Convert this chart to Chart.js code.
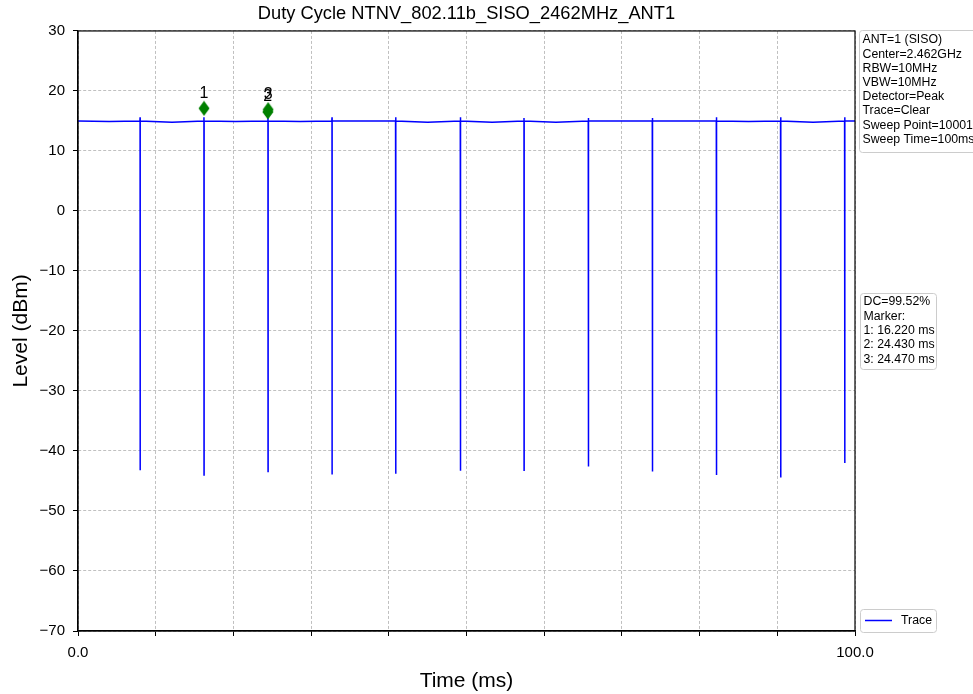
<!DOCTYPE html>
<html>
<head>
<meta charset="utf-8">
<script src="https://cdn.jsdelivr.net/npm/chart.js@4/dist/chart.umd.min.js"></script>
<style>
  html, body { margin: 0; padding: 0; background: #fff; }
  #wrap { width: 973px; height: 694px; }
</style>
</head>
<body>
<div id="wrap"><canvas id="chart" width="973" height="694"></canvas></div>
<script>
const chartTitle = 'Duty Cycle NTNV_802.11b_SISO_2462MHz_ANT1';

// trace (ms, dBm)
const traceTime = [
    0.0, 4.0,
    7.97, 7.99, 8.00, 8.01, 12.1,
    16.19, 16.21, 16.22, 16.23, 20.3,
    24.43, 24.45, 24.46, 24.47, 28.6,
    32.67, 32.69, 32.70, 32.71, 36.8,
    40.87, 40.89, 40.90, 40.91, 45.0,
    49.20, 49.22, 49.23, 49.24, 53.3,
    57.38, 57.40, 57.41, 57.42, 61.5,
    65.67, 65.69, 65.70, 65.71, 69.8,
    73.91, 73.93, 73.94, 73.95, 78.1,
    82.15, 82.17, 82.18, 82.19, 86.3,
    90.42, 90.44, 90.45, 90.46, 94.6,
    98.66, 98.68, 98.69, 98.70, 100.0
];
const traceLevel = [
    15.0, 14.9,
    15.0, 15.6, -43.2, 15.0, 14.8,
    15.0, 15.6, -44.0, 15.0, 14.9,
    15.0, 15.6, -43.4, 15.0, 14.9,
    15.0, 15.6, -43.9, 15.0, 15.0,
    15.0, 15.6, -43.8, 15.0, 14.8,
    15.0, 15.6, -43.3, 15.0, 14.8,
    15.0, 15.5, -43.2, 15.0, 14.8,
    15.0, 15.5, -42.6, 15.0, 15.0,
    15.0, 15.5, -43.4, 15.0, 15.0,
    15.0, 15.6, -44.0, 15.0, 14.9,
    15.0, 15.6, -44.4, 15.0, 14.8,
    15.0, 15.6, -42.0, 15.0, 15.0
];

const markerLabels = ['1', '2', '3'];
const markerTime = [16.22, 24.43, 24.47];
const markerLevel = [17.1, 16.5, 16.9];

const xTickLabels = { 0: '0.0', 100: '100.0' };

const settingsLines = [
    'ANT=1 (SISO)',
    'Center=2.462GHz',
    'RBW=10MHz',
    'VBW=10MHz',
    'Detector=Peak',
    'Trace=Clear',
    'Sweep Point=10001',
    'Sweep Time=100ms'
];
const resultLines = [
    'DC=99.52%',
    'Marker:',
    '1: 16.220 ms',
    '2: 24.430 ms',
    '3: 24.470 ms'
];
const legendLabel = 'Trace';

const FONT = "'Liberation Sans', Arial, sans-serif";
const TRACE_COLOR = '#0000ff';
const MARKER_COLOR = '#008000';

// thin diamond like matplotlib 'd'
function makeDiamond() {
    const c = document.createElement('canvas');
    c.width = 12;
    c.height = 16;
    const g = c.getContext('2d');
    g.fillStyle = MARKER_COLOR;
    g.beginPath();
    g.moveTo(6, 0.5);
    g.lineTo(11.5, 8);
    g.lineTo(6, 15.5);
    g.lineTo(0.5, 8);
    g.closePath();
    g.fill();
    return c;
}

function roundBox(ctx, x, y, w, h, r) {
    ctx.beginPath();
    ctx.moveTo(x + r, y);
    ctx.lineTo(x + w - r, y);
    ctx.quadraticCurveTo(x + w, y, x + w, y + r);
    ctx.lineTo(x + w, y + h - r);
    ctx.quadraticCurveTo(x + w, y + h, x + w - r, y + h);
    ctx.lineTo(x + r, y + h);
    ctx.quadraticCurveTo(x, y + h, x, y + h - r);
    ctx.lineTo(x, y + r);
    ctx.quadraticCurveTo(x, y, x + r, y);
    ctx.closePath();
}

function drawTextBox(ctx, x, y, w, h, lines, firstY, step) {
    roundBox(ctx, x, y, w, h, 3);
    ctx.fillStyle = 'rgba(255,255,255,0.8)';
    ctx.fill();
    ctx.strokeStyle = '#cccccc';
    ctx.lineWidth = 1;
    ctx.stroke();
    ctx.fillStyle = '#000';
    ctx.font = '12.3px ' + FONT;
    ctx.textAlign = 'left';
    ctx.textBaseline = 'middle';
    lines.forEach((t, i) => ctx.fillText(t, x + 3, firstY + i * step));
}

const extrasPlugin = {
    id: 'extras',
    afterDatasetsDraw(chart) {
        const ctx = chart.ctx;
        const meta = chart.getDatasetMeta(0);
        ctx.save();
        ctx.fillStyle = '#000';
        ctx.font = '16px ' + FONT;
        ctx.textAlign = 'center';
        ctx.textBaseline = 'middle';
        meta.data.forEach((pt, i) => {
            ctx.fillText(markerLabels[i], pt.x, pt.y - 15);
        });
        ctx.restore();
    },
    afterDraw(chart) {
        const ctx = chart.ctx;
        const a = chart.chartArea;
        ctx.save();
        // frame
        ctx.strokeStyle = '#000';
        ctx.lineWidth = 1.2;
        ctx.setLineDash([]);
        ctx.strokeRect(a.left, a.top, a.right - a.left, a.bottom - a.top);

        drawTextBox(ctx, 859.5, 30.5, 130, 122, settingsLines, 40, 14.2);
        drawTextBox(ctx, 860.5, 293.5, 76, 76, resultLines, 302, 14.3);

        // legend
        roundBox(ctx, 860.5, 609.5, 76, 23, 3);
        ctx.fillStyle = 'rgba(255,255,255,0.8)';
        ctx.fill();
        ctx.strokeStyle = '#cccccc';
        ctx.lineWidth = 1;
        ctx.stroke();
        ctx.strokeStyle = TRACE_COLOR;
        ctx.lineWidth = 1.5;
        ctx.beginPath();
        ctx.moveTo(865, 620.5);
        ctx.lineTo(892, 620.5);
        ctx.stroke();
        ctx.fillStyle = '#000';
        ctx.font = '12.3px ' + FONT;
        ctx.textAlign = 'left';
        ctx.textBaseline = 'middle';
        ctx.fillText(legendLabel, 901, 621);
        ctx.restore();
    }
};

const gridStyle = {
    color: '#b0b0b0',
    lineWidth: 0.8,
    tickColor: '#000',
    tickLength: 5,
    tickWidth: 1,
    tickBorderDash: [6, 0]
};
const borderStyle = { display: true, color: '#000', width: 1.2, dash: [3, 2] };

new Chart(document.getElementById('chart').getContext('2d'), {
    type: 'line',
    data: {
        datasets: [
            {
                label: 'Markers',
                data: markerTime.map((t, i) => ({ x: t, y: markerLevel[i] })),
                showLine: false,
                pointStyle: makeDiamond(),
                pointRadius: 6,
                borderColor: MARKER_COLOR,
                backgroundColor: MARKER_COLOR
            },
            {
                label: legendLabel,
                data: traceTime.map((t, i) => ({ x: t, y: traceLevel[i] })),
                borderColor: TRACE_COLOR,
                borderWidth: 1.5,
                pointRadius: 0,
                tension: 0,
                fill: false
            }
        ]
    },
    options: {
        responsive: false,
        animation: false,
        devicePixelRatio: 1,
        layout: { padding: { left: 0, right: 118, top: 0, bottom: 0 } },
        plugins: {
            legend: { display: false },
            tooltip: { enabled: false },
            title: {
                display: true,
                fullSize: false,
                text: chartTitle,
                color: '#000',
                font: { family: FONT, size: 18.3, weight: 'normal' },
                padding: { top: 3, bottom: 6 }
            }
        },
        scales: {
            x: {
                type: 'linear',
                min: 0,
                max: 100,
                afterFit: (s) => { s.height = 63; },
                grid: gridStyle,
                border: borderStyle,
                ticks: {
                    stepSize: 10,
                    autoSkip: false,
                    maxRotation: 0,
                    color: '#000',
                    padding: 8,
                    font: { family: FONT, size: 15 },
                    callback: (v) => xTickLabels[v] || ''
                },
                title: {
                    display: true,
                    text: 'Time (ms)',
                    color: '#000',
                    font: { family: FONT, size: 21 },
                    padding: { top: 0, bottom: 0 }
                }
            },
            y: {
                min: -70,
                max: 30,
                afterFit: (s) => { s.width = 78; },
                grid: gridStyle,
                border: borderStyle,
                ticks: {
                    stepSize: 10,
                    color: '#000',
                    padding: 8,
                    font: { family: FONT, size: 15 },
                    callback: (v) => (v < 0 ? '\u2212' + Math.abs(v) : String(v))
                },
                title: {
                    display: true,
                    text: 'Level (dBm)',
                    color: '#000',
                    font: { family: FONT, size: 21 },
                    padding: { top: 9, bottom: 0 }
                }
            }
        }
    },
    plugins: [extrasPlugin]
});
</script>
</body>
</html>
